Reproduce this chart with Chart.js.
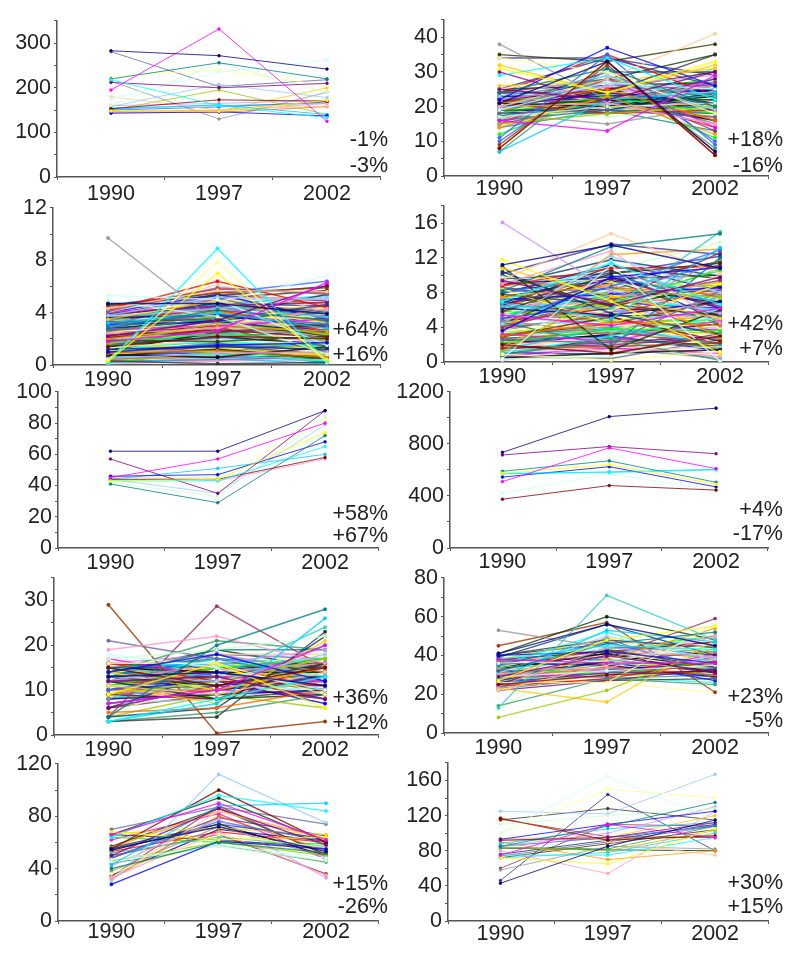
<!DOCTYPE html>
<html>
<head>
<meta charset="utf-8">
<title>Ten panels 1990-2002</title>
<script src="https://cdn.jsdelivr.net/npm/chart.js@4/dist/chart.umd.min.js"></script>
<style>
    html, body { margin: 0; padding: 0; background: #fff; }
    #page { position: relative; width: 800px; height: 965px; overflow: hidden; }
    canvas { position: absolute; filter: blur(0.45px); }
    .pct { position: absolute; font: 21.5px "Liberation Sans", Arial, sans-serif; color: #222; line-height: 24px; text-align: right; filter: blur(0.35px); }
</style>
</head>
<body>
<div id="page"></div>
<script>
// Chart data: each row is one line (1990, 1997, 2002)
const years = ['1990', '1997', '2002'];

const valuesA = [
    [283,272,242],[195,332,125],[148,147,172],[218,160,133],[212,200,210],[153,173,170],
    [220,256,220],[143,146,137],[152,162,140],[175,235,262],[160,255,190],[225,240,205],
    [158,208,178],[145,148,165],[160,165,172],[180,150,160],[150,157,168],[155,160,165],
    [150,195,140],[145,148,200],[147,150,170],[146,145,158],[281,203,218],[215,130,190]
];
const valuesB = [
    [21,33,7],[16,13,29],[31,24,33],[29,34,22],[25,22,30],[8,33,6],[24,31,20],[22,37,26],
    [7,22,24],[19,27,25],[17,20,21],[34,30,18],[23,29,19],[20,21,15],[22,26,29],[20,28,41],
    [11,35,9],[20,27,23],[15,18,20],[32,24,32],[14,23,12],[21,25,16],[18,19,17],[38,22,26],
    [19,19,24],[18,28,20],[20,22,22],[35,33,38],[9,32,7],[22,21,27],[34,34,26],[24,24,35],
    [21,20,23],[21,18,19],[18,23,18],[20,24,21],[15,28,14],[19,22,26],[17,21,23],[30,21,28],
    [22,25,30],[16,19,18],[23,23,25],[20,18,28],[18,26,22],[19,17,20],[25,30,21],[21,22,27],
    [14,21,15],[24,19,22],[16,24,24],[10,31,10],[20,29,19],[23,20,18],[26,27,31],[19,21,17],
    [8,33,6],[22,23,23],[18,15,20],[17,25,19],[7,31,8],[21,28,35],[19,20,22],[20,19,24],
    [16,26,13],[25,34,29],[22,18,21],[17,22,16],[24,35,23],[12,24,11],[18,20,25],[20,25,26],
    [21,24,22],[20,20,20],[22,22,24],[19,23,19],[23,21,23],[18,21,21],[21,26,25],[20,23,18],
    [22,27,28],[17,19,19],[23,25,22],[19,24,27],[21,21,18],[20,26,20],[18,22,24],[24,23,21],
    [16,20,17],[22,24,20],[19,25,23],[21,19,21],[23,27,26],[17,24,18],[20,30,30],[18,25,15],
    [22,20,25],[19,18,22],[24,28,24],[15,21,16],[21,23,19],[20,21,26],[25,26,27],[17,23,14],
    [23,24,28],[16,22,19],[22,19,17],[18,24,23],[20,20,31],[19,26,21],[21,25,24],[14,19,13]
];
const valuesC = [
    [4.7,4.7,3.9],[1.8,2.6,6.3],[0.3,7.0,0.4],[0.2,8.9,0.3],[2.2,3.4,6.1],[1.4,2.2,2.0],
    [2.8,4.2,3.4],[1.0,1.5,1.7],[3.2,4.0,2.8],[5.3,5.0,1.5],[4.9,3.7,0.8],[0.4,7.9,0.2],
    [3.8,5.2,5.0],[2.4,2.8,4.3],[0.5,0.9,1.0],[4.3,5.7,5.6],[3.0,3.9,3.1],[2.9,4.4,3.7],
    [1.6,3.2,2.4],[3.5,4.9,3.2],[2.0,2.9,2.6],[0.9,1.1,0.6],[4.1,5.9,5.4],[9.7,3.2,2.0],
    [1.2,1.4,1.2],[2.6,3.6,4.0],[0.7,1.2,0.5],[1.9,1.8,2.2],[4.5,5.5,5.9],[2.3,2.5,3.0],
    [3.3,3.5,4.6],[0.3,0.1,0.2],[0.8,0.6,1.4],[4.2,6.4,4.4],[1.7,2.4,1.9],[3.6,3.8,2.9],
    [2.7,3.0,3.5],[1.1,1.0,0.9],[0.6,0.8,0.3],[3.9,4.5,4.8],[2.1,2.7,2.1],[1.5,2.1,2.7],
    [3.1,3.3,2.5],[0.2,0.5,0.1],[4.4,4.8,6.8],[1.3,1.9,1.6],[2.5,3.1,3.9],[3.7,4.3,5.2],
    [0.1,0.3,0.4],[2.2,2.3,1.8],[4.0,6.1,4.1],[1.0,1.6,1.1],[3.4,4.6,3.6],[2.9,3.7,2.3],
    [1.6,1.3,0.7],[0.4,0.7,1.3],[2.4,4.1,2.8],[3.0,5.1,3.3],[1.8,2.0,4.7],[4.6,5.3,6.0],
    [0.9,1.7,0.2],[2.6,2.2,1.5],[3.2,3.6,5.4],[1.4,2.9,1.0],[0.6,1.5,0.8],[3.8,4.7,4.5],
    [2.0,3.5,2.2],[1.1,2.5,3.1],[3.5,4.2,2.6],[0.2,1.0,0.5],[2.8,3.4,4.2],[4.1,4.4,3.8],
    [3.0,4.1,3.0],[1.3,1.8,1.4],[0.5,0.6,0.7],[2.3,3.0,2.4],[3.6,4.5,4.0],[4.0,5.4,3.5],
    [1.7,2.3,3.3],[2.8,3.8,2.7],[0.8,1.3,1.2],[3.3,4.0,3.4],[2.0,2.6,1.7],[1.2,2.0,2.5],
    [4.3,5.0,5.1],[3.7,4.9,3.0],[0.6,1.1,0.9],[2.5,3.3,3.2],[1.5,1.7,1.3],[3.1,4.3,4.4],
    [2.2,3.2,2.9],[4.2,5.6,4.6],[0.9,1.4,1.5],[1.9,2.8,2.3],[3.4,4.8,3.7],[2.7,3.5,2.0],
    [1.0,1.2,0.4],[3.9,5.1,5.7],[2.1,3.1,3.6],[0.3,0.4,0.6],[1.4,2.4,2.9],[3.2,4.7,4.1],
    [2.6,3.9,3.0],[4.4,5.8,5.5],[1.8,2.7,1.2],[0.7,1.0,1.8],[3.5,4.4,3.1],[2.4,3.6,3.8],
    [1.1,1.9,2.1],[3.8,5.3,4.9],[2.9,4.0,2.5],[0.4,0.9,0.2],[1.6,2.1,1.6],[3.0,4.6,5.3],
    [2.3,2.9,3.4],[4.1,5.2,4.3],[1.3,2.3,0.8],[0.2,0.3,1.1],[3.6,4.2,3.3],[2.8,3.3,4.6],
    [1.7,2.6,2.2],[4.6,5.5,6.4],[2.0,3.8,2.7],[0.8,1.6,0.6],[3.3,4.9,4.7],[1.2,1.5,1.9]
];
const valuesD = [
    [11.2,13.5,10.8],[5.4,4.2,6.2],[11.8,7.0,1.0],[7.0,11.4,6.6],[9.4,6.6,9.8],[2.0,1.0,3.0],
    [8.2,13.3,14.8],[3.6,9.8,10.9],[6.8,5.0,13.2],[0.4,11.2,0.1],[0.3,0.7,3.1],[0.9,0.2,1.2],
    [4.4,12.2,8.0],[9.0,12.8,4.5],[16.1,8.2,5.6],[9.5,14.8,10.2],[5.0,8.7,12.9],[6.4,6.2,15.0],
    [1.2,8.4,7.4],[10.8,7.6,5.0],[7.4,9.0,2.8],[3.0,4.6,4.2],[2.6,2.2,8.2],[4.8,3.2,7.6],
    [10.4,5.6,3.2],[0.8,2.6,0.2],[11.0,1.4,6.0],[5.8,10.2,11.4],[1.6,1.8,2.2],[4.0,7.2,9.4],
    [10.2,13.6,12.4],[7.8,6.6,5.4],[0.5,1.0,1.4],[8.8,10.8,11.0],[2.2,3.8,3.6],[6.2,5.4,7.0],
    [3.2,2.4,4.8],[8.4,4.4,9.0],[1.0,3.0,5.2],[6.6,9.6,6.4],[2.9,5.2,2.4],[4.6,1.8,12.0],
    [7.2,7.8,8.6],[1.4,4.0,2.0],[5.2,11.6,3.8],[9.8,9.2,7.2],[3.4,6.0,10.0],[5.6,3.6,4.0],
    [0.2,2.0,0.6],[6.0,8.0,8.4],[2.4,1.2,1.8],[8.0,10.0,6.8],[4.2,4.8,5.8],[7.6,3.4,3.4],
    [1.8,7.4,9.2],[3.8,12.4,13.0],[9.2,8.6,7.8],[0.6,0.4,2.6],[5.0,5.8,11.8],[6.8,10.6,4.6],
    [2.8,2.8,1.6],[10.0,6.4,8.8],[4.5,9.4,5.2],[3.0,4.4,7.0],[8.6,7.0,12.6],[1.1,0.9,3.3],
    [6.5,11.0,9.6],[2.1,3.2,4.4],[7.0,5.2,2.0],[5.5,6.8,10.6],[9.0,9.8,6.2],[0.7,1.6,1.0],
    [3.3,5.0,3.9],[6.1,7.4,6.0],[1.5,2.3,2.9],[4.7,6.2,5.6],[8.3,9.3,8.0],[2.5,3.0,1.3],
    [5.3,7.8,7.2],[7.3,8.2,9.4],[0.3,1.4,0.8],[3.7,4.3,3.0],[9.3,8.8,10.4],[4.9,5.6,6.6],
    [6.9,6.0,5.0],[1.9,2.6,3.4],[8.1,8.4,11.2],[3.1,3.6,2.6],[5.7,9.0,8.8],[7.7,7.2,4.2],
    [2.3,4.2,5.4],[4.3,6.6,7.8],[6.3,10.4,7.4],[1.3,1.6,0.4],[8.9,11.8,9.9],[3.5,4.0,4.6],
    [5.1,5.3,5.5],[7.5,9.6,10.0],[2.7,3.4,2.2],[4.1,7.6,3.2],[9.6,10.2,12.2],[0.9,2.8,1.8],
    [6.7,8.6,6.8],[3.9,5.4,8.6],[5.9,4.6,4.8],[7.9,11.2,8.2],[2.0,3.2,3.8],[4.5,6.4,9.0],
    [8.5,7.4,5.8],[1.7,2.0,2.8],[6.0,9.2,11.6],[3.3,3.8,1.4],[5.0,6.9,6.2],[7.1,8.0,7.6],
    [0.5,1.2,2.4],[9.1,10.6,13.8],[2.9,4.6,5.0],[4.2,5.0,3.6],[6.4,7.0,9.2],[1.0,1.4,0.6],
    [8.7,9.9,8.4],[3.6,5.8,6.8],[5.4,8.2,4.4],[7.3,6.4,10.8],[2.2,2.5,1.9],[4.8,7.8,7.0]
];
const valuesE = [
    [62,62,88],[45,57,80],[43,44,74],[43,43,65],[57,35,88],[44,44,58],[41,29,72],[46,47,68],
    [44,51,60],[43,46,72],[42,33,84],[45,45,82],[44,35,79],[46,43,57]
];
const valuesF = [
    [735,1010,1075],[510,770,610],[575,640,490],[575,580,600],[715,780,725],[375,480,445],
    [590,670,505],[545,625,470],[570,585,605],[420,570,440]
];
const valuesG = [
    [13,14,11],[7,10,20],[9,16,6],[3,8,13],[12,13,8],[15,11,15],[4,20,28],[14,18,12],
    [3,7,26],[18,15,10],[17,19,22],[16,16,9],[13,12,18],[19,22,16],[12,16,19],[11,9,14],
    [10,14,11],[15,13,24],[9,12,17],[11,7,21],[10,10,15],[5,6,10],[21,17,12],[8,18,14],
    [4,6,22],[14,21,19],[12,8,9],[13,11,16],[29,0.4,3],[4,28.7,15],[7,10,13],[3,4,23],
    [15,14,14],[16,12,11],[11,15,17],[8,9,10],[17,13,12],[14,10,15],[12,17,13],[6,11,8],
    [9,8,16],[13,19,19],[10,12,7],[15,16,12],[11,11,10],[5,12,14],[14,15,18],[7,8,11],
    [12,14,16],[16,18,13],[10,9,12],[13,17,15],[8,13,9],[4,9,6],[15,12,17],[11,13,14],
    [9,15,11],[14,11,13],[12,10,20],[6,14,10],[3,5,9],[16,15,15],
    [13,13,13],[14,14,15],[12,12,12],[11,12,11],[15,15,16],[10,11,13],[13,15,14],[14,13,10],
    [12,11,15],[9,10,9],[11,14,12],[14,16,17],[10,13,10],[13,10,12],[15,17,14],[12,15,11],
    [8,11,12],[11,10,16],[14,12,14],[7,12,15],[13,16,10],[10,8,11],[12,13,14],[15,18,18],
    [9,11,13],[14,17,16],[11,16,15],[13,9,11],[8,10,14],[16,14,13],[12,18,17],[10,15,9],
    [15,10,13],[9,13,12],[14,19,15],[11,8,10],[6,9,12],[13,14,17],[12,9,13],[10,16,16]
];
const valuesH = [
    [41,56,45],[38,36,36],[27,48,55],[38,45,43],[29,40,31],[25,30,32],[32,46,52],[40,42,36],
    [28,53,47],[29,32,35],[36,37,46],[26,26,56],[31,50,38],[33,33,50],[24,44,39],[22,35,51],
    [35,47,33],[13,71,48],[8,22,44],[23,16,48],[30,38,54],[28,34,30],[27,49,28],[53,44,42],
    [39,56,40],[14,28,25],[41,60,48],[25,43,34],[45,57,21],[37,39,59],[26,31,32],[40,48,44],
    [33,41,31],[24,28,37],[34,30,37],[36,35,29],[30,29,41],[28,36,34],[35,52,36],[22,27,33],
    [38,42,47],[32,33,30],[27,37,27],[23,40,50],[34,44,52],[12,46,43],[29,26,21],[39,34,38],
    [31,31,35],[26,47,46],
    [37,40,37],[25,32,29],[33,38,33],[28,29,32],[38,48,41],[24,30,36],[36,42,39],[30,35,38],
    [27,33,31],[40,46,40],[23,28,30],[35,36,35],[29,37,42],[26,34,33],[32,44,45],[38,38,31],
    [25,27,28],[34,41,34],[28,31,39],[37,43,50],[31,36,32],[24,33,35],[33,47,44],[27,29,26]
];
const valuesI = [
    [55,72,53],[66,90,62],[68,62,64],[64,96,84],[50,86,58],[55,100,60],[40,60,52],[28,61,55],
    [43,88,90],[45,58,48],[47,57,46],[36,66,56],[30,112,75],[33,68,35],[42,78,33],[33,84,62],
    [48,76,61],[52,64,57],[46,60,50],[67,71,66],[56,84,63],[32,80,54],[70,87,74],[38,72,49],
    [56,74,63],[44,58,45],[66,94,60],[57,86,51],[50,66,36],[34,88,50],[48,79,65],[66,62,56],
    [54,74,50],[53,68,60],[64,60,59],[35,70,61],[62,82,47],[39,60,53]
];
const valuesJ = [
    [43,85,115],[75,110,95],[72,65,105],[75,75,95],[92,95,112],[117,92,97],[85,108,135],[93,110,125],
    [88,105,112],[100,165,115],[110,120,128],[100,150,140],[125,122,167],[80,54,125],[85,100,130],[118,90,75],
    [85,95,108],[72,78,100],[84,80,103],[94,95,120],[90,70,80],[92,93,97],[74,90,108],[58,85,82],
    [76,92,110],[84,82,108],[83,81,80],[72,88,104],[116,96,95],[60,110,108],[46,144,80],[115,128,115]
];

// Percentage notes at the lower right of each panel
const notesTop = ['-1%', '+18%', '+64%', '+42%', '+58%', '+4%', '+36%', '+23%', '+15%', '+30%'];
const notesBottom = ['-3%', '-16%', '+16%', '+7%', '+67%', '-17%', '+12%', '-5%', '-26%', '+15%'];

// Line colours in the order the series were drawn
const lineColors = [
    '#000080', '#FF00FF', '#FFFF00', '#00FFFF', '#800080', '#800000', '#008080', '#0000FF',
    '#00CCFF', '#CCFFFF', '#CCFFCC', '#FFFF99', '#99CCFF', '#FF99CC', '#CC99FF', '#FFCC99',
    '#3366FF', '#33CCCC', '#99CC00', '#FFCC00', '#FF9900', '#FF6600', '#666699', '#969696',
    '#003366', '#339966', '#003300', '#333300', '#993300', '#993366', '#333399', '#333333',
    '#000000', '#FF0000', '#00FF00'
];

// Panel geometry in page pixels, plus axis steps
const layouts = [
    { values: valuesA, left: 57, right: 380, top: 18.5, bottom: 176.5, max: 350, step: 50, major: 100, pts: [111, 219, 327], pad: 1, lw: 1, noteX: 388, noteY: [139, 165] },
    { values: valuesB, left: 443.5, right: 768, top: 18, bottom: 176.5, max: 45, step: 5, major: 10, pts: [499, 607, 715], pad: -2.5, lw: 1.4, noteX: 783, noteY: [139, 165] },
    { values: valuesC, left: 53, right: 380, top: 206, bottom: 365.5, max: 12, step: 2, major: 4, pts: [108, 217, 327], pad: -1, lw: 1.5, noteX: 388, noteY: [329, 354] },
    { values: valuesD, left: 443.5, right: 768, top: 203.5, bottom: 362, max: 18, step: 2, major: 4, pts: [502, 611, 720], pad: -1, lw: 1.5, noteX: 783, noteY: [323, 348] },
    { values: valuesE, left: 57.5, right: 378, top: 390, bottom: 548.5, max: 100, step: 10, major: 20, pts: [110, 218, 325], pad: -1, lw: 1, noteX: 388, noteY: [513, 535] },
    { values: valuesF, left: 449.5, right: 768, top: 390, bottom: 548.5, max: 1200, step: 200, major: 400, pts: [502, 609, 716], pad: -2, lw: 1, noteX: 783, noteY: [509, 533] },
    { values: valuesG, left: 53.5, right: 378, top: 576, bottom: 735, max: 35, step: 5, major: 10, pts: [108, 217, 325], pad: -1, lw: 1.5, noteX: 388, noteY: [697, 722] },
    { values: valuesH, left: 443.5, right: 768, top: 576, bottom: 733.5, max: 80, step: 10, major: 20, pts: [498, 607, 715], pad: -1, lw: 1.3, noteX: 783, noteY: [696, 720] },
    { values: valuesI, left: 57.5, right: 378, top: 761.5, bottom: 920.5, max: 120, step: 20, major: 40, pts: [111, 218, 326], pad: -5, lw: 1.3, noteX: 388, noteY: [883, 906] },
    { values: valuesJ, left: 447.5, right: 768, top: 760.5, bottom: 920.5, max: 180, step: 20, major: 40, pts: [500, 608, 715], pad: -3, lw: 1, noteX: 783, noteY: [882, 906] }
];

const FONT = { family: '"Liberation Sans", Arial, sans-serif', size: 21.5 };
const AXIS_COLOR = '#555555';
const TEXT_COLOR = '#222222';
const page = document.getElementById('page');

function drawPanel(p, index) {
    const spaceLeft = 62, spaceTop = 14, spaceRight = 2, spaceBottom = 34;
    const canvas = document.createElement('canvas');
    canvas.width = p.right - p.left + spaceLeft + spaceRight;
    canvas.height = p.bottom - p.top + spaceTop + spaceBottom;
    canvas.style.left = (p.left - spaceLeft) + 'px';
    canvas.style.top = (p.top - spaceTop) + 'px';
    page.appendChild(canvas);

    // x axis runs in category units so 1990, 1997, 2002 land under their points
    const perUnit = (p.pts[2] - p.pts[0]) / 2;
    const xMin = (p.left - p.pts[0]) / perUnit;
    const xMax = (p.right - p.pts[0]) / perUnit;
    const edges = [0, 1, 2, 3].map(k => xMin + (xMax - xMin) * k / 3);

    new Chart(canvas.getContext('2d'), {
        type: 'line',
        data: {
            datasets: p.values.map((row, i) => ({
                data: row.map((v, j) => ({ x: j, y: v })),
                // lines a little washed out, markers solid
                borderColor: lineColors[i % lineColors.length] + 'C8',
                backgroundColor: lineColors[i % lineColors.length],
                borderWidth: p.lw,
                pointRadius: 1.3,
                tension: 0
            }))
        },
        options: {
            responsive: false,
            animation: false,
            layout: { autoPadding: false, padding: { top: spaceTop, right: spaceRight, left: 0, bottom: 0 } },
            plugins: { legend: { display: false }, tooltip: { enabled: false } },
            scales: {
                x: {
                    type: 'linear',
                    min: xMin,
                    max: xMax,
                    afterFit: scale => { scale.height = spaceBottom; },
                    afterBuildTicks: scale => {
                        scale.ticks = edges.concat([0, 1, 2]).map(v => ({ value: v }));
                    },
                    border: { color: AXIS_COLOR, width: 1.5 },
                    grid: {
                        drawOnChartArea: false,
                        tickLength: 3,
                        tickColor: ctx => (edges.includes(ctx.tick.value) ? AXIS_COLOR : 'rgba(0,0,0,0)')
                    },
                    ticks: {
                        autoSkip: false,
                        maxRotation: 0,
                        padding: p.pad,
                        font: FONT,
                        color: TEXT_COLOR,
                        callback: value => (edges.includes(value) ? '' : years[value])
                    }
                },
                y: {
                    min: 0,
                    max: p.max,
                    afterFit: scale => { scale.width = spaceLeft; },
                    border: { color: AXIS_COLOR, width: 1.5 },
                    grid: { drawOnChartArea: false, tickLength: 3, tickColor: AXIS_COLOR },
                    ticks: {
                        stepSize: p.step,
                        autoSkip: false,
                        padding: 3,
                        font: FONT,
                        color: TEXT_COLOR,
                        callback: value => (value % p.major === 0 ? value : '')
                    }
                }
            }
        }
    });

    [notesTop[index], notesBottom[index]].forEach((text, k) => {
        const note = document.createElement('div');
        note.className = 'pct';
        note.textContent = text;
        note.style.right = (800 - p.noteX) + 'px';
        note.style.top = (p.noteY[k] - 12) + 'px';
        page.appendChild(note);
    });
}

layouts.forEach(drawPanel);
</script>
</body>
</html>
